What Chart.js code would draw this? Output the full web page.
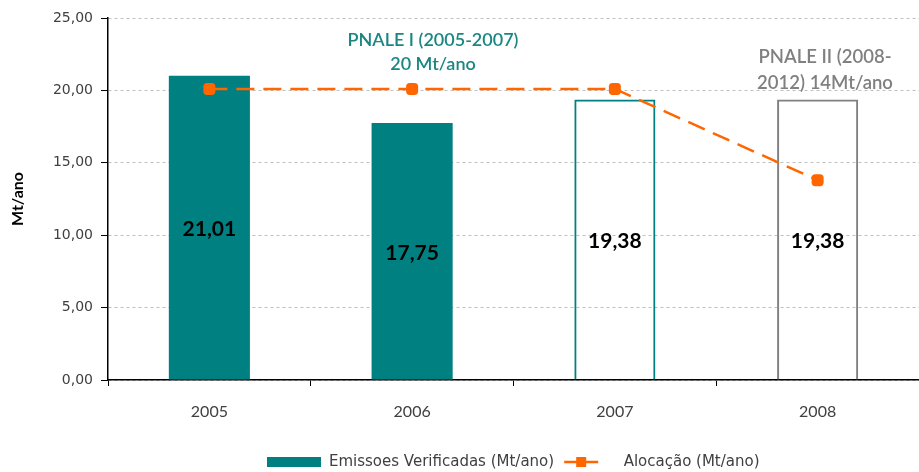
<!DOCTYPE html>
<html>
<head>
<meta charset="utf-8">
<script src="https://cdn.jsdelivr.net/npm/chart.js@4"></script>
<style>
  html, body { margin: 0; padding: 0; background: #fff; }
</style>
</head>
<body>
<canvas id="chart" width="919" height="472"></canvas>
<script>
// data
const years    = ['2005', '2006', '2007', '2008'];
const emissoes = [21.01, 17.75, 19.38, 19.38];   // Emissoes Verificadas (Mt/ano)
const alocacao = [20.1, 20.1, 20.1, 13.8];       // Alocação (Mt/ano)
const yTicks   = [0, 5, 10, 15, 20, 25];

const TEAL = '#008080';
const ORANGE = '#FF6600';
const GREY = '#808080';
const TXT = '#404040';

const fmt = v => v.toFixed(2).replace('.', ',');

// legend symbols
function rectSymbol() {
  const c = document.createElement('canvas');
  c.width = 54; c.height = 10;
  const g = c.getContext('2d');
  g.fillStyle = TEAL;
  g.fillRect(0, 0, 54, 10);
  return c;
}
function lineSymbol() {
  const c = document.createElement('canvas');
  c.width = 54; c.height = 12;
  const g = c.getContext('2d');
  g.strokeStyle = ORANGE;
  g.lineWidth = 2.5;
  g.beginPath(); g.moveTo(2, 6); g.lineTo(36, 6); g.stroke();
  g.fillStyle = ORANGE;
  g.fillRect(14, 1, 10, 10);
  return c;
}

// value labels in the middle of each bar
const barLabels = {
  id: 'barLabels',
  afterDatasetsDraw(chart) {
    const ctx = chart.ctx;
    const meta = chart.getDatasetMeta(1);
    ctx.save();
    ctx.font = 'bold 21px Lato';
    ctx.fillStyle = '#000';
    ctx.textAlign = 'center';
    ctx.textBaseline = 'middle';
    meta.data.forEach((bar, i) => {
      ctx.fillText(fmt(emissoes[i]), bar.x, (bar.y + bar.base) / 2 + 2);
    });
    ctx.restore();
  }
};

// PNALE notes
const notes = {
  id: 'notes',
  afterDraw(chart) {
    const ctx = chart.ctx;
    ctx.save();
    ctx.textAlign = 'center';
    ctx.textBaseline = 'middle';
    ctx.font = '600 18px Lato';
    ctx.fillStyle = '#1a8783';
    ctx.fillText('PNALE I (2005-2007)', 433, 40);
    ctx.fillText('20 Mt/ano', 433, 64);
    ctx.fillStyle = GREY;
    ctx.font = '600 18.5px Lato';
    ctx.fillText('PNALE II (2008-', 825, 57);
    ctx.fillText('2012) 14Mt/ano', 825, 83);
    ctx.restore();
  }
};

// legend centred under the plot area, its row at y = 462
const legendPlace = {
  id: 'legendPlace',
  afterLayout(chart) {
    const lg = chart.legend;
    lg.left = chart.chartArea.left;
    lg.right = chart.chartArea.right;
    lg.top = 462 - lg.options.labels.padding - 7.5;
  }
};

new Chart(document.getElementById('chart'), {
  data: {
    labels: years,
    datasets: [
      {
        type: 'line',
        label: 'Alocação (Mt/ano)',
        data: alocacao,
        order: 0,
        borderColor: ORANGE,
        borderWidth: 2.5,
        borderDash: [18, 9],
        pointStyle: 'rectRounded',
        pointRadius: 7,
        pointBackgroundColor: ORANGE,
        pointBorderColor: ORANGE,
        pointBorderWidth: 0,
        tension: 0
      },
      {
        type: 'bar',
        label: 'Emissoes Verificadas (Mt/ano)',
        data: emissoes,
        order: 1,
        backgroundColor: [TEAL, TEAL, 'rgba(0,0,0,0)', 'rgba(0,0,0,0)'],
        borderColor: [TEAL, TEAL, TEAL, GREY],
        borderWidth: [0, 0, 2, 2],
        borderSkipped: 'start',
        categoryPercentage: 0.8,
        barPercentage: 0.5
      }
    ]
  },
  options: {
    responsive: false,
    animation: false,
    layout: { autoPadding: false, padding: { top: 18, bottom: 0, left: 0, right: -2 } },
    plugins: {
      tooltip: { enabled: false },
      legend: {
        position: 'bottom',
        maxHeight: 30,
        labels: {
          usePointStyle: true,
          pointStyleWidth: 54,
          boxHeight: 12,
          padding: 8,
          color: TXT,
          font: { family: 'DejaVu Sans', size: 15 },
          generateLabels: () => [
            { text: 'Emissoes Verificadas (Mt/ano)', pointStyle: rectSymbol(), fontColor: TXT, lineWidth: 0, strokeStyle: 'rgba(0,0,0,0)', fillStyle: TEAL, datasetIndex: 1 },
            { text: 'Alocação (Mt/ano)', pointStyle: lineSymbol(), fontColor: TXT, lineWidth: 0, strokeStyle: 'rgba(0,0,0,0)', fillStyle: ORANGE, datasetIndex: 0 }
          ]
        }
      }
    },
    scales: {
      x: {
        afterFit: s => { s.height = 62; s.paddingLeft = 0; s.paddingRight = 0; },
        grid: { offset: true, drawOnChartArea: false, drawTicks: true, tickLength: 6, color: '#000' },
        border: { display: true, color: '#000', width: 1.5 },
        ticks: { color: TXT, padding: 16, font: { family: 'Lato', size: 16 } }
      },
      y: {
        min: 0,
        max: 25,
        afterFit: s => { s.width = 108; },
        afterBuildTicks: s => { s.ticks = yTicks.map(v => ({ value: v })); },
        grid: { color: '#bfbfbf', lineWidth: 1, tickColor: '#000', tickLength: 7, tickBorderDash: [] },
        border: { display: true, color: '#000', width: 1.5, dash: [3, 3] },
        ticks: { color: TXT, padding: 8, font: { family: 'DejaVu Sans', size: 14 }, callback: v => fmt(v) },
        title: { display: true, text: 'Mt/ano', color: '#000', padding: { top: 8, bottom: 0 }, font: { family: 'Lato', size: 16, weight: 'bold' } }
      }
    }
  },
  plugins: [barLabels, notes, legendPlace]
});
</script>
</body>
</html>
